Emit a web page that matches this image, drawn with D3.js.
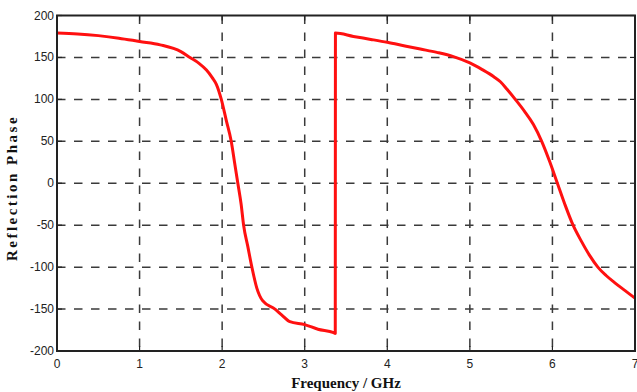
<!DOCTYPE html>
<html lang="en">
<head>
<meta charset="UTF-8">
<title>Reflection Phase</title>
<script src="https://d3js.org/d3.v7.min.js"></script>
<style>
    body { margin: 0; background: #fff; }
    svg { display: block; }
    .tick-label { font-family: "Liberation Sans", Arial, sans-serif; font-size: 12px; fill: #222; }
    .axis-title { font-family: "Liberation Serif", "Times New Roman", serif; font-weight: bold; font-size: 15px; fill: #111; }
</style>
</head>
<body>
<svg width="637" height="392"></svg>
<script>
    // frequency (GHz) and reflection phase (deg)
    const freq = [0, 0.25, 0.5, 0.75, 1.0, 1.25, 1.5, 1.61, 1.72, 1.81, 1.88, 1.93, 1.99, 2.05, 2.11, 2.15, 2.19, 2.23, 2.26, 2.31, 2.36, 2.42, 2.49, 2.64, 2.72, 2.82, 3.0, 3.16, 3.35, 3.37,
                  3.372, 3.59, 3.8, 4.0, 4.2, 4.4, 4.6, 4.8, 5.0, 5.15, 5.29, 5.37, 5.45, 5.55, 5.66, 5.77, 5.87, 5.97, 6.06, 6.15, 6.25, 6.35, 6.45, 6.55, 6.65, 6.76, 6.88, 7.0];
    const phase = [179, 178, 176, 173, 169, 165, 157, 150, 143, 135, 126, 118, 100, 75, 50, 25, 0, -25, -50, -75, -100, -125, -140, -150, -157, -165, -168.5, -174, -178, -179,
                   179, 175, 171.5, 168, 164, 160, 156, 151, 143.5, 135.5, 127, 121, 112, 100, 86, 70, 50, 25, 0, -25, -50, -69, -86, -100, -110, -119, -128, -137];
    const xTicks = [0, 1, 2, 3, 4, 5, 6, 7];
    const yTicks = [-200, -150, -100, -50, 0, 50, 100, 150, 200];

    const svg = d3.select("svg");
    const padL = 57, padT = 15.5, padR = 635, padB = 351;

    const x = d3.scaleLinear().domain([0, 7]).range([padL, padR]);
    const y = d3.scaleLinear().domain([-200, 200]).range([padB, padT]);

    // grid
    svg.append("g").selectAll("line")
        .data(yTicks.slice(1, -1))
        .join("line")
        .attr("x1", padL).attr("x2", padR)
        .attr("y1", d => y(d)).attr("y2", d => y(d))
        .attr("stroke", "#3a3a3a").attr("stroke-width", 1.5)
        .attr("stroke-dasharray", "8.5,8.5");

    svg.append("g").selectAll("line")
        .data(xTicks.slice(1, -1))
        .join("line")
        .attr("x1", d => x(d)).attr("x2", d => x(d))
        .attr("y1", padT).attr("y2", padB)
        .attr("stroke", "#3a3a3a").attr("stroke-width", 1.5)
        .attr("stroke-dasharray", "8.5,8.5");

    // inner ticks
    const tk = svg.append("g").attr("stroke", "#222").attr("stroke-width", 1.2);
    xTicks.forEach(d => {
        tk.append("line").attr("x1", x(d)).attr("x2", x(d)).attr("y1", padB).attr("y2", padB - 5);
        tk.append("line").attr("x1", x(d)).attr("x2", x(d)).attr("y1", padT).attr("y2", padT + 5);
    });
    yTicks.forEach(d => {
        tk.append("line").attr("x1", padL).attr("x2", padL + 5).attr("y1", y(d)).attr("y2", y(d));
        tk.append("line").attr("x1", padR).attr("x2", padR - 5).attr("y1", y(d)).attr("y2", y(d));
    });

    // data line
    const pts = freq.map((f, i) => [f, phase[i]]);
    svg.append("path")
        .datum(pts)
        .attr("fill", "none")
        .attr("stroke", "#ff1010")
        .attr("stroke-width", 3)
        .attr("stroke-linejoin", "round")
        .attr("d", d3.line().x(d => x(d[0])).y(d => y(d[1])).curve(d3.curveMonotoneX));

    // frame
    svg.append("rect")
        .attr("x", padL).attr("y", padT)
        .attr("width", padR - padL).attr("height", padB - padT)
        .attr("fill", "none").attr("stroke", "#222").attr("stroke-width", 2);

    // tick labels
    svg.append("g").selectAll("text")
        .data(xTicks)
        .join("text")
        .attr("class", "tick-label")
        .attr("x", d => x(d)).attr("y", 368)
        .attr("text-anchor", "middle")
        .text(d => d);

    svg.append("g").selectAll("text")
        .data(yTicks)
        .join("text")
        .attr("class", "tick-label")
        .attr("x", padL - 3).attr("y", d => y(d) + 4)
        .attr("text-anchor", "end")
        .text(d => d);

    // axis titles
    svg.append("text")
        .attr("class", "axis-title")
        .attr("x", (padL + padR) / 2).attr("y", 388)
        .attr("text-anchor", "middle")
        .text("Frequency / GHz");

    svg.append("text")
        .attr("class", "axis-title")
        .attr("transform", "translate(17,188) rotate(-90)")
        .attr("text-anchor", "middle")
        .attr("letter-spacing", "2.5px")
        .text("Reflection Phase");
</script>
</body>
</html>
